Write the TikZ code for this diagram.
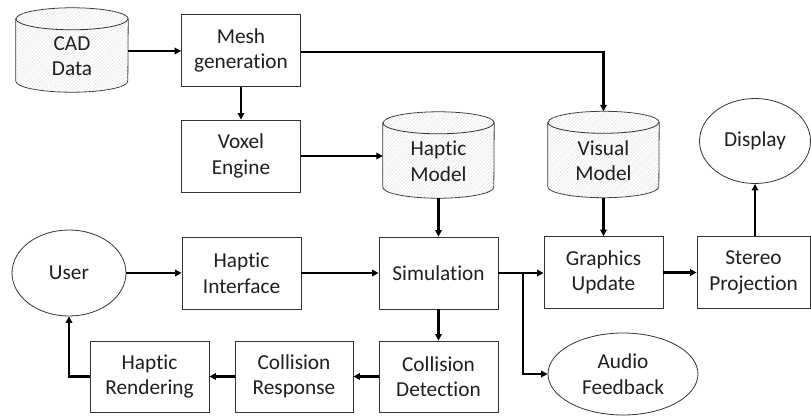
\documentclass[tikz,border=0pt]{standalone}
\usepackage{fontspec}
\setmainfont[Ligatures=NoCommon]{Carlito}
\usetikzlibrary{arrows.meta,patterns.meta,shapes.geometric}

% database cylinder: name, centre x, centre y, width, height
\newcommand\dbcyl[5]{%
  \node[cylnode, minimum width=#4pt, minimum height=#5pt] (#1) at (#2,#3) {};
  \path[cylbody]
    ([yshift=-11pt]#1.north west) -- ([yshift=11pt]#1.south west)
    arc[start angle=180, end angle=360, x radius=#4pt/2, y radius=11pt]
    -- ([yshift=-11pt]#1.north east)
    arc[start angle=0, end angle=180, x radius=#4pt/2, y radius=11pt] -- cycle;
  \draw[boxline] ([yshift=-11pt]#1.north west)
    arc[start angle=180, end angle=360, x radius=#4pt/2, y radius=11pt];
}

\begin{document}
\begin{tikzpicture}[x=1pt, y=-1pt,
  every node/.style={font=\fontsize{21.3}{25.5}\selectfont, align=center, text=black!88},
  boxline/.style={draw=black!80, line width=0.8pt},
  block/.style={boxline, rectangle, fill=white, minimum width=119pt, minimum height=72pt, inner sep=0pt},
  oval/.style={boxline, ellipse, fill=white, inner sep=0pt},
  cylnode/.style={inner sep=0pt},
  cylbody/.style={boxline, fill=white, postaction={pattern={Lines[angle=45, distance=2.4pt, line width=0.3pt]}, pattern color=black!16}},
  flow/.style={line width=2.2pt, draw=black, -{Triangle[length=6.5pt, width=6.5pt]}}
]
\useasboundingbox (0,0) rectangle (811,417);

% stores
\dbcyl{cad}{72}{50}{112}{84}
\node at ([yshift=-6pt]cad.center) {CAD\\Data};
\dbcyl{hmodel}{438.5}{155}{111}{86}
\node at ([yshift=-6pt]hmodel.center) {Haptic\\Model};
\dbcyl{vmodel}{603.5}{154.5}{111}{86}
\node at ([yshift=-6pt]vmodel.center) {Visual\\Model};

% processing blocks
\node[block] (mesh) at (241,50.5) {Mesh\\generation};
\node[block] (voxel) at (241,156) {Voxel\\Engine};
\node[block] (hint) at (241.5,273) {Haptic\\Interface};
\node[block] (sim) at (438.5,273) {Simulation};
\node[block] (gfx) at (603.5,272.5) {Graphics\\Update};
\node[block, minimum width=113pt] (stereo) at (753.5,272.5) {Stereo\\Projection};
\node[block, minimum height=71pt] (hrend) at (149.5,376.5) {Haptic\\Rendering};
\node[block, minimum width=118pt, minimum height=71pt] (cresp) at (294,376.5) {Collision\\Response};
\node[block, minimum height=71pt] (cdet) at (438.5,376.5) {Collision\\Detection};

% terminals
\node[oval, minimum width=114pt, minimum height=86pt] (user) at (69,273) {User};
\node[oval, minimum width=111pt, minimum height=85pt] (display) at (755,141) {Display};
\node[oval, minimum width=150pt, minimum height=82pt] (audio) at (623,374) {Audio\\Feedback};

% connectors
\draw[flow] (cad.east |- 0,51) -- (mesh.west |- 0,51);
\draw[flow] (mesh.east |- 0,52) -| (vmodel.north);
\draw[flow] (mesh.south) -- (voxel.north);
\draw[flow] (voxel.east) -- (voxel.east -| hmodel.west);
\draw[flow] (hmodel.south) -- (sim.north);
\draw[flow] (vmodel.south) -- (gfx.north);
\draw[flow] (user.east) -- (hint.west);
\draw[flow] (hint.west -| hint.east) -- (sim.west |- hint.west);
\draw[flow] (sim.east) -- (sim.east -| gfx.west);
\coordinate (split) at (523,273);
\draw[flow] (split) |- (audio.west);
\draw[flow] (gfx.east) -- (gfx.east -| stereo.west);
\draw[flow] (stereo.north -| display.south) -- (display.south);
\draw[flow] (sim.south) -- (cdet.north);
\draw[flow] (cdet.west) -- (cresp.east);
\draw[flow] (cresp.west) -- (hrend.east);
\draw[flow] (hrend.west) -| (user.south);
\end{tikzpicture}
\end{document}
